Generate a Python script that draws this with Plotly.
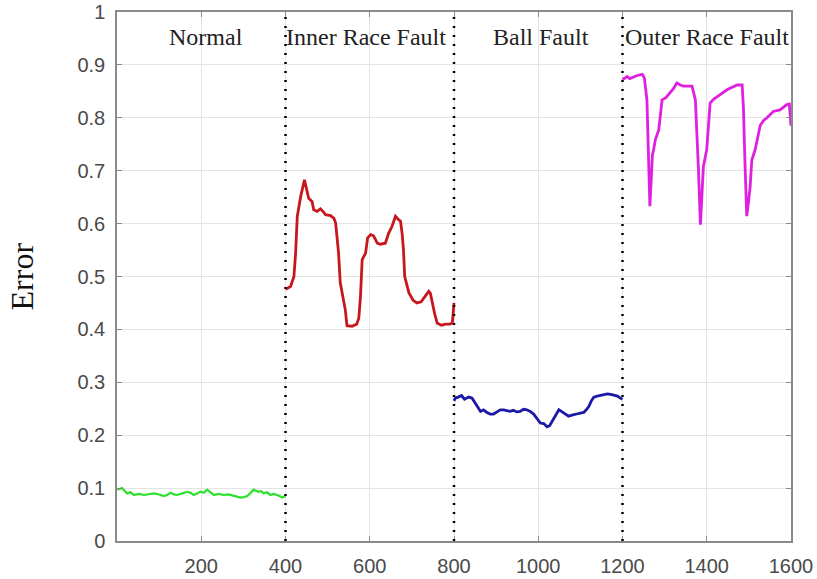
import plotly.graph_objects as go

# Reconstruction error per sample for each bearing condition
normal_x = [1, 12, 24, 32, 40, 52, 64, 76, 88, 100, 111, 119, 127, 135, 143, 155, 167, 175, 182,
            190, 198, 206, 214, 222, 230, 241, 253, 265, 277, 285, 293, 301, 309, 316, 324, 330,
            336, 342, 348, 356, 364, 372, 380, 386, 392, 400]
normal_y = [0.097, 0.1, 0.09, 0.092, 0.087, 0.089, 0.087, 0.088, 0.09, 0.088, 0.085, 0.087, 0.091,
            0.088, 0.087, 0.09, 0.093, 0.091, 0.087, 0.09, 0.093, 0.091, 0.097, 0.092, 0.087, 0.089,
            0.087, 0.088, 0.085, 0.084, 0.082, 0.083, 0.085, 0.09, 0.097, 0.095, 0.093, 0.094, 0.09,
            0.092, 0.087, 0.089, 0.087, 0.085, 0.082, 0.085]

inner_x = [400, 412, 420, 424, 428, 436, 445, 451, 455, 463, 467, 475, 483, 489, 495, 507, 515, 519,
           526, 530, 542, 546, 558, 569, 574, 578, 582, 590, 595, 602, 609, 618, 625, 637, 645, 653,
           661, 669, 673, 677, 680, 683, 693, 703, 712, 722, 732, 740, 744, 748, 754, 760, 770, 780,
           790, 796, 798, 800]
inner_y = [0.476, 0.481, 0.5, 0.544, 0.614, 0.651, 0.683, 0.664, 0.648, 0.642, 0.626, 0.623, 0.628,
           0.623, 0.617, 0.615, 0.61, 0.601, 0.544, 0.488, 0.437, 0.407, 0.406, 0.41, 0.421, 0.462,
           0.532, 0.544, 0.573, 0.579, 0.577, 0.563, 0.561, 0.563, 0.582, 0.595, 0.614, 0.607, 0.605,
           0.58, 0.551, 0.5, 0.469, 0.455, 0.45, 0.452, 0.463, 0.472, 0.468, 0.45, 0.43, 0.412, 0.408,
           0.41, 0.41, 0.412, 0.43, 0.45]

ball_x = [800, 803, 810, 818, 825, 835, 843, 849, 855, 863, 870, 878, 886, 894, 902, 910, 918, 926,
          933, 941, 949, 957, 965, 973, 981, 989, 997, 1005, 1013, 1021, 1027, 1033, 1041, 1049,
          1055, 1061, 1066, 1072, 1080, 1088, 1096, 1102, 1108, 1114, 1120, 1126, 1132, 1140, 1148,
          1156, 1164, 1172, 1180, 1188, 1195, 1200]
ball_y = [0.265, 0.27, 0.272, 0.275, 0.268, 0.272, 0.27, 0.262, 0.254, 0.245, 0.248, 0.243, 0.24,
          0.24, 0.244, 0.248, 0.248, 0.246, 0.245, 0.247, 0.244, 0.245, 0.249, 0.248, 0.245, 0.24,
          0.232, 0.223, 0.222, 0.216, 0.218, 0.226, 0.238, 0.248, 0.245, 0.242, 0.238, 0.236, 0.238,
          0.24, 0.241, 0.242, 0.243, 0.248, 0.254, 0.265, 0.272, 0.274, 0.275, 0.277, 0.278, 0.277,
          0.275, 0.274, 0.27, 0.268]

outer_x = [1200, 1211, 1217, 1223, 1229, 1235, 1247, 1252, 1258, 1262, 1265, 1268, 1271, 1274, 1278,
           1286, 1294, 1303, 1313, 1321, 1329, 1337, 1345, 1355, 1365, 1373, 1377, 1380, 1385, 1389,
           1392, 1400, 1408, 1416, 1424, 1436, 1448, 1460, 1472, 1484, 1487, 1491, 1495, 1499, 1503,
           1507, 1515, 1527, 1535, 1543, 1558, 1574, 1582, 1590, 1596, 1600]
outer_y = [0.872, 0.878, 0.874, 0.876, 0.878, 0.88, 0.882, 0.875, 0.834, 0.74, 0.633, 0.68, 0.73,
           0.74, 0.759, 0.777, 0.834, 0.838, 0.847, 0.855, 0.866, 0.862, 0.86, 0.86, 0.86, 0.834,
           0.77, 0.708, 0.598, 0.66, 0.708, 0.74, 0.828, 0.835, 0.84, 0.846, 0.853, 0.858, 0.862,
           0.862, 0.82, 0.708, 0.614, 0.64, 0.67, 0.72, 0.74, 0.786, 0.795, 0.8, 0.812, 0.815, 0.82,
           0.825, 0.826, 0.785]

boundaries = [400, 800, 1200]
condition_labels = ["Normal", "Inner Race Fault", "Ball Fault", "Outer Race Fault"]
label_x = [211, 590, 1007, 1401]
label_y = 0.952

x_ticks = [200, 400, 600, 800, 1000, 1200, 1400, 1600]
y_ticks = [0, 0.1, 0.2, 0.3, 0.4, 0.5, 0.6, 0.7, 0.8, 0.9, 1]
y_tick_text = ["0", "0.1", "0.2", "0.3", "0.4", "0.5", "0.6", "0.7", "0.8", "0.9", "1"]

series = [
    (normal_x, normal_y, "#2ee02e", 2.2),
    (inner_x, inner_y, "#c8161d", 2.8),
    (ball_x, ball_y, "#1a1aa6", 2.8),
    (outer_x, outer_y, "#e01fe0", 2.8),
]

fig = go.Figure()
for xs, ys, color, w in series:
    fig.add_trace(go.Scatter(x=xs, y=ys, mode="lines",
                             line=dict(color=color, width=w), showlegend=False))

for b in boundaries:
    fig.add_shape(type="line", x0=b, x1=b, y0=0, y1=1, xref="x", yref="y",
                  line=dict(color="black", width=2.5, dash="2px,7px"), layer="above")

for text, lx in zip(condition_labels, label_x):
    fig.add_annotation(x=lx, y=label_y, text=text, showarrow=False,
                       xanchor="center", yanchor="middle",
                       font=dict(family="Liberation Serif", size=24, color="#222222"))

fig.add_annotation(x=-0.141, y=0.5, xref="paper", yref="paper", text="Error",
                   textangle=-90, showarrow=False, xanchor="center", yanchor="middle",
                   font=dict(family="Liberation Serif", size=32, color="#111111"))

axis_common = dict(showline=True, linecolor="#8a8a8a", linewidth=1.5, mirror="ticks",
                   ticks="inside", ticklen=5, tickcolor="#8a8a8a", showgrid=True,
                   gridcolor="#e4e4e4", gridwidth=1, zeroline=False, automargin=False,
                   tickfont=dict(family="Liberation Sans", size=20, color="#4a4a4a"))

fig.update_xaxes(range=[0, 1600], tickvals=x_ticks, ticklabelstandoff=6, **axis_common)
fig.update_yaxes(range=[0, 1], tickvals=y_ticks, ticktext=y_tick_text,
                 ticklabelstandoff=6, **axis_common)

fig.update_layout(width=817, height=579, plot_bgcolor="white", paper_bgcolor="white",
                  margin=dict(l=117, r=26, t=12, b=38))

fig.write_html("out.html")
